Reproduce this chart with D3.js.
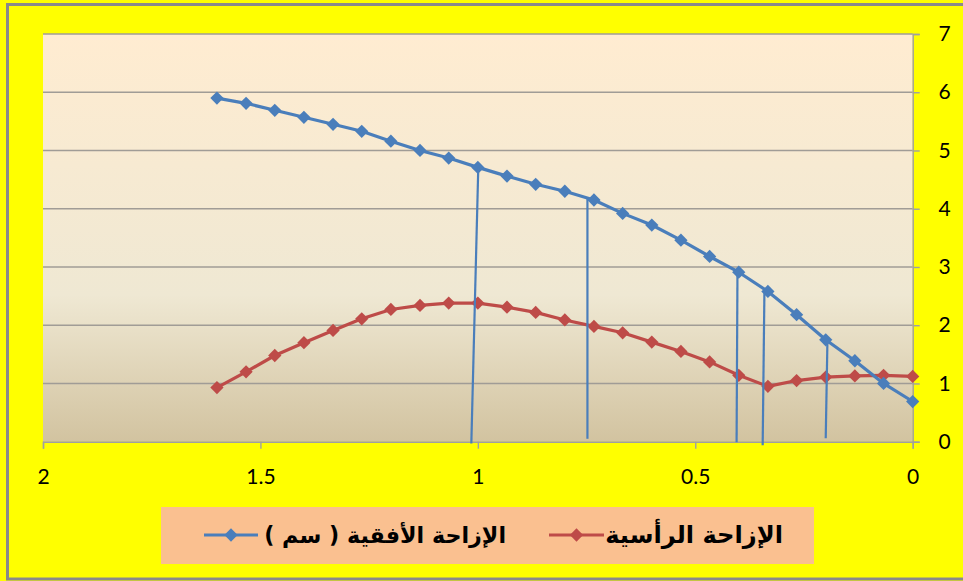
<!DOCTYPE html>
<html>
<head>
<meta charset="utf-8">
<script src="https://cdn.jsdelivr.net/npm/d3@7"></script>
<style>
  html, body { margin: 0; padding: 0; background: #ffff00; }
  svg { display: block; }
</style>
</head>
<body>
<svg id="chart" width="963" height="581"></svg>
<script>
// Displacement readings (x in the horizontal axis, reversed 2 → 0)
const xValues = [1.6, 1.533, 1.467, 1.4, 1.333, 1.267, 1.2, 1.133, 1.067, 1.0,
                 0.933, 0.867, 0.8, 0.733, 0.667, 0.6, 0.533, 0.467, 0.4, 0.333,
                 0.267, 0.2, 0.133, 0.067, 0];
const horizontalDisp = [5.90, 5.81, 5.69, 5.57, 5.45, 5.33, 5.16, 5.00, 4.87, 4.71,
                        4.56, 4.42, 4.30, 4.15, 3.92, 3.72, 3.46, 3.18, 2.91, 2.58,
                        2.18, 1.75, 1.39, 1.00, 0.69];
const verticalDisp = [0.93, 1.20, 1.48, 1.70, 1.91, 2.11, 2.27, 2.34, 2.38, 2.38,
                      2.31, 2.22, 2.09, 1.98, 1.87, 1.71, 1.55, 1.37, 1.14, 0.95,
                      1.05, 1.11, 1.13, 1.14, 1.12];

// Hand-drawn drop lines from the blue curve down to the axis
const dropTopX = [0.999, 0.748, 0.403, 0.341, 0.196];
const dropTopY = [4.71, 4.17, 2.89, 2.58, 1.77];
const dropBottomX = [1.015, 0.748, 0.405, 0.345, 0.200];
const dropBottomY = [-0.03, 0.05, -0.01, -0.06, 0.06];

const xTicks = [2, 1.5, 1, 0.5, 0];
const yTicks = [0, 1, 2, 3, 4, 5, 6, 7];

const seriesNames = ["الإزاحة الأفقية ( سم )", "الإزاحة الرأسية"];
const seriesColors = ["#4a7ebb", "#be4b48"];

const svg = d3.select("#chart");
const W = 963, H = 581;
const plot = { left: 43, right: 912.7, top: 34, bottom: 441.7 };

const x = d3.scaleLinear().domain([2, 0]).range([plot.left, plot.right]);
const y = d3.scaleLinear().domain([0, 7]).range([plot.bottom, plot.top]);

// Background and outer frame
svg.append("rect").attr("width", W).attr("height", H).attr("fill", "#ffff00");
svg.append("rect")
  .attr("x", 7.5).attr("y", 4.5).attr("width", W + 20).attr("height", 574.5)
  .attr("fill", "none").attr("stroke", "#8a8a8a").attr("stroke-width", 3);

// Plot area gradient (parchment)
const defs = svg.append("defs");
const grad = defs.append("linearGradient").attr("id", "parchment")
  .attr("x1", 0).attr("y1", 0).attr("x2", 0).attr("y2", 1);
grad.append("stop").attr("offset", "0%").attr("stop-color", "#ffecd1");
grad.append("stop").attr("offset", "64%").attr("stop-color", "#efe8d3");
grad.append("stop").attr("offset", "100%").attr("stop-color", "#d2c3a0");

svg.append("rect")
  .attr("x", plot.left).attr("y", plot.top)
  .attr("width", plot.right - plot.left).attr("height", plot.bottom - plot.top)
  .attr("fill", "url(#parchment)");

// Horizontal gridlines
svg.append("g")
  .selectAll("line")
  .data(yTicks.filter(d => d > 0))
  .join("line")
  .attr("x1", plot.left).attr("x2", plot.right)
  .attr("y1", d => y(d)).attr("y2", d => y(d))
  .attr("stroke", "#a09c96").attr("stroke-width", 1.4);

// Right-hand value axis
const yAxis = svg.append("g")
  .attr("transform", `translate(${plot.right},0)`)
  .call(d3.axisRight(y).tickValues(yTicks).tickSize(7).tickPadding(22)
        .tickFormat(d3.format("d")));
yAxis.select(".domain").attr("stroke", "#a0a0a0").attr("stroke-width", 1.4);
yAxis.selectAll(".tick line").attr("stroke", "#a0a0a0").attr("stroke-width", 1.4);
yAxis.selectAll(".tick text")
  .attr("fill", "#000").attr("font-family", "Lato, 'Open Sans', sans-serif")
  .attr("font-size", 21).attr("text-anchor", "middle").attr("x", 32);

// Bottom axis
const xAxis = svg.append("g")
  .attr("transform", `translate(0,${plot.bottom})`)
  .call(d3.axisBottom(x).tickValues(xTicks).tickSize(7).tickPadding(20)
        .tickFormat(d => String(d)));
xAxis.select(".domain").attr("stroke", "#a0a0a0").attr("stroke-width", 1.4);
xAxis.selectAll(".tick line").attr("stroke", "#a0a0a0").attr("stroke-width", 1.4);
xAxis.selectAll(".tick text")
  .attr("fill", "#000").attr("font-family", "Lato, 'Open Sans', sans-serif")
  .attr("font-size", 21);

// Series
const diamond = d3.symbol().type(d3.symbolSquare).size(88);
const seriesData = [horizontalDisp, verticalDisp];
const lineGen = d3.line().x(d => x(d[0])).y(d => y(d[1]));

// red drawn first, blue on top
[1, 0].forEach(si => {
  const pts = xValues.map((xv, i) => [xv, seriesData[si][i]]);
  const g = svg.append("g");
  g.append("path").datum(pts)
    .attr("d", lineGen).attr("fill", "none")
    .attr("stroke", seriesColors[si]).attr("stroke-width", 3.2)
    .attr("stroke-linejoin", "round");
  g.selectAll("path.mk").data(pts).join("path").attr("class", "mk")
    .attr("d", diamond)
    .attr("transform", d => `translate(${x(d[0])},${y(d[1])}) rotate(45)`)
    .attr("fill", seriesColors[si]);
});

// Drop lines
svg.append("g").selectAll("line")
  .data(dropTopX.map((d, i) => i))
  .join("line")
  .attr("x1", i => x(dropTopX[i])).attr("y1", i => y(dropTopY[i]))
  .attr("x2", i => x(dropBottomX[i])).attr("y2", i => y(dropBottomY[i]))
  .attr("stroke", "#4a7ebb").attr("stroke-width", 2.2);

// Legend
const legend = svg.append("g");
legend.append("rect")
  .attr("x", 161).attr("y", 507).attr("width", 653).attr("height", 57)
  .attr("fill", "#fac090");

const legendItems = [
  { name: seriesNames[1], color: seriesColors[1], textRight: 783, lineX1: 549, lineX2: 604, width: 178 },
  { name: seriesNames[0], color: seriesColors[0], textRight: 506, lineX1: 204, lineX2: 258, width: 242 }
];
legendItems.forEach(it => {
  legend.append("line")
    .attr("x1", it.lineX1).attr("x2", it.lineX2).attr("y1", 535).attr("y2", 535)
    .attr("stroke", it.color).attr("stroke-width", 3.2);
  legend.append("path").attr("d", diamond)
    .attr("transform", `translate(${(it.lineX1 + it.lineX2) / 2},535) rotate(45)`)
    .attr("fill", it.color);
  const t = legend.append("text")
    .attr("y", 543)
    .attr("direction", "rtl").attr("unicode-bidi", "embed")
    .attr("text-anchor", "start")
    .attr("font-family", "'DejaVu Sans', sans-serif").attr("font-weight", "bold")
    .attr("font-size", 21).attr("fill", "#000")
    .text(it.name);
  const w = t.node().getComputedTextLength();
  const fs = w > 0 ? 21 * it.width / w : 21;
  t.attr("font-size", fs);
  // place the text so that its right edge sits at textRight
  const bb = t.node().getBBox();
  t.attr("x", 0);
  const bb0 = t.node().getBBox();
  t.attr("x", it.textRight - (bb0.x + bb0.width));
});
</script>
</body>
</html>
